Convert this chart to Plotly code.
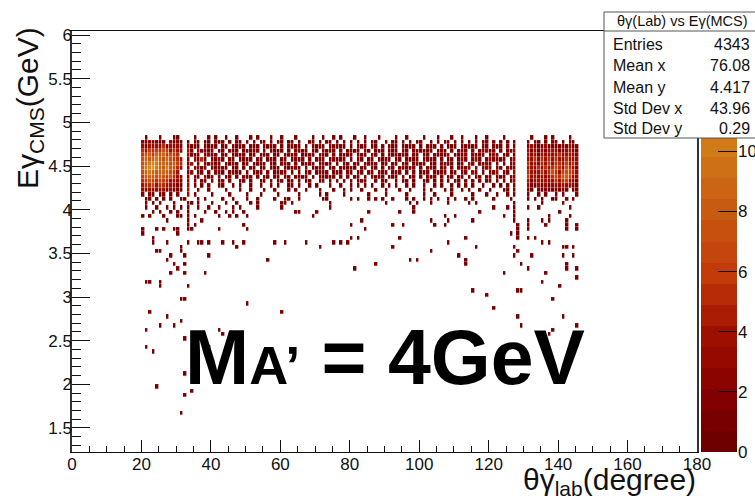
import numpy as np
import plotly.graph_objects as go

# ---------------- data ----------------
# lower edges (GeV) of the energy rows of the dense band, top to bottom
BAND_E_LOW = [4.80, 4.75, 4.70, 4.65, 4.60, 4.55, 4.50, 4.45, 4.40, 4.35, 4.30, 4.25, 4.20, 4.15]

# counts per 1-degree column ('.'=0, hex digits), block starting at theta=20
LEFT_FIRST = 20
LEFT_ROWS = [
    ".1...1...11.",
    "2132212.3121",
    "324343524332",
    "546565764543",
    "67869796765.",
    "7989a8797654",
    "79aba8987865",
    "8abca98a8754",
    "79a98898764.",
    "689878767543",
    "567656654432",
    "455645544321",
    "334333423211",
    "2.21.12.1.1.",
]

# block starting at theta=33 (95 columns, written in groups of ten)
MID_FIRST = 33
MID_ROWS = [
    "..1...1.1. .1..1...1. 1...1..1.. .1....1..1 ..1.1...1. .1...1.... 1..1....1. ..1...1..1 ...1..1... .1...",
    "1.21.11.21 1.1.21.1.1 .21.1.12.1 1.1..21.1. 21.1.1.1.2 .1.21..1.1 1.2.1.12.. 1.1.21.1.2 .1.2.11.2. 1.1.2",
    "2121.2112. 12.1121.21 1.2112.1.2 211.1.2121 .12121.1.2 12.11.2.11 2.1121.2.1 12.2.112.1 2121.12.12 1.2.2",
    "42.32121.2 1.212.1121 2.1.2112.1 .2121.11.2 121.2.1211 .21.121.21 1.21.21211 2.121.2.22 1.2.22312. 2.123",
    "3121.2312. 21.1212.12 .121.21.12 12.1221.21 1.2.1212.1 21.12.1.21 2121.12.12 .21213.121 3.2212.231 .21.2",
    "2.3151.213 1.21.2121. 21.121.12. 1212.1.212 .12112.1.2 1.21.2121. 12.1212.21 21.2.12.13 2.231.2322 21.13",
    "14.2.21312 .2121.12.1 121.21.121 .2.1212.12 12.1.21.21 .1212.12.1 2.12.1212. 12.2122.12 .32.2131.2 .1.23",
    "2.2312.121 21.12.1.21 .12.121.21 121.2.1212 .21.12121. 21.21.2.12 .12121.1.2 21.12.2.21 23.1.232.2 2.212",
    "13.21.2.12 1.2121.2.1 21.2.1212. 1.2.12.121 2.121.21.2 1.21.212.1 21.1.2.121 .2212.12.2 2.32.1.223 .12.3",
    "2.12.312.1 .21.1.212. 1.21.21.12 .1212.1.21 121.2.1.12 .1.2121.21 1.2.12.1.2 12.1.21.21 .2.21.22.1 21.22",
    "3.2.11.2.1 2.1..21.1. .12.1.12.1 2.1.21..12 .1.2.1.2.1 12..1.21.. 1.21.1..21 .1.2.1.21. 2.1.2.12.1 .1.23",
    "3.1.1.2..1 1..1.1..1. .1..1.1..1 1.1..1.1.. .1..1..1.1 .1.1..1.1. 1..1.1..1. .1.1..1.1. 1.1..1..1. 1.1.2",
    "4..1..1... .1...1..1. ..1..1...1 .1..1...1. ..1..1.1.. 1...1..1.. .1..1...1. 1...1.1..1 .1..1..1.. .11.2",
    "3.1....1.. ..1....1.. .1....1... ..1.....1. 1....1.... ..1....1.. ...1....1. .1....1... ..1...1..1 ..1.2",
]

# block starting at theta=131
RIGHT_FIRST = 131
RIGHT_ROWS = [
    ".1...1.1....1..",
    "1.21.1.12.1.21.",
    "232123121212312",
    "323132343223421",
    "434243434534432",
    "345354545435443",
    "534354645546453",
    "443545456547542",
    "543454575467653",
    "634343456578643",
    "423434345456432",
    "322323233343321",
    "21.212121221.21",
    "1..1.1..1.1...1",
]

# single entries below the band: theta (deg), E (GeV)
TAIL_THETA = [
    21, 22.5, 24.8, 26.2, 28.5, 31.4, 32.8, 36.9, 38.3, 43.5, 46.4, 50.7, 53.6, 58.5, 61.3,
    62.8, 65.7, 72.3, 73.4, 80.6, 82.1, 85, 87.3, 89.6, 92.2, 96.5, 98.2, 101.1, 103.1,
    105.1, 108.6, 110.9, 113.2, 115.8, 121.8, 126.2, 131.6, 133.1, 135.4, 138.2, 139.7, 142, 144,
    21.9, 23.9, 25.6, 29.7, 33.4, 34.8, 36.3, 40.6, 44.4, 47.8, 51.6, 53, 60.2,
    61.9, 63.4, 74.3, 90.2, 97.9, 99.7, 103.1, 108, 114.6, 116.1, 127.3, 135.4, 141.1,
    21.3, 24.2, 27.6, 29.1, 31.1, 33.4, 36.3, 39.2, 42, 46.9, 48.4, 53, 60.8,
    74.9, 98.8, 121.8, 125.9, 127.6, 131.9, 134.5, 143.1,
    23.3, 25.6, 28.2, 30.5, 33.1, 38.3, 41.2, 44.4, 46.4, 49.8,
    64.8, 65.7, 70.9, 85.5, 94.5, 98.8, 117.5, 127.6, 140.6,
    20.5, 22.8, 26.8, 30, 31.4, 33.1, 35.4, 42, 45.5, 47.8, 50.7,
    69.4, 107.4, 110.9, 124.4, 127.6, 137.4, 143.4,
    27.6, 33.1, 37.2,
    83.5, 103.7, 108, 115.5, 127.6, 131.9, 135.7, 137.1, 142.6,
    33.1, 35.7, 49.8, 80.6, 92.5, 95.9, 104, 107.7, 128.2, 131.3, 136.2, 142.6, 145.2,
    20.7, 24.5, 26.2, 29.4, 30.6, 33.1, 34.9, 42, 50.4, 84.7, 128.2, 131, 142.6, 145.2,
    20.7, 30.6, 126.2, 128.2,
    23.4, 80, 82.1, 94.2, 113.2, 128.2, 131, 133.1,
    23.4, 27.4, 33.1, 36.9, 37.7, 39.2, 43.8, 46.4, 49.8, 58.8, 61, 67.6, 75.2, 77.2, 79.5,
    108.6, 135.4, 137.1,
    31.7, 47.2, 71.1, 92.2, 116.9, 127.6, 141.1, 142.6, 144.6,
    24.5, 25.9, 31.7, 103.7, 128.2,
    28.2, 32.8, 39.7, 111.5, 127, 132.5, 141.4, 144,
    27.6, 56.2, 97.6, 99.1, 113.2,
    29.1, 32.8, 87.8, 113.5, 129, 142,
    30.2, 30.8, 81.8, 131.6, 142.9, 145.2,
    28.2, 32.8, 38.3, 124.4, 136.5,
    145.2,
    21.3, 22.8, 25.3, 135.1,
    25.3, 33.4, 140,
    115.2, 128.2, 129,
    119,
    31.7, 32.8, 138,
    50.7,
    121.5,
    22.2, 60.8,
    27.6, 128.2, 141.4,
    31.7,
    25.3, 29.1, 129, 145.2,
    21.9, 42, 138.5,
    43.8, 137,
    32.8,
    21.9, 39.5,
    23.3,
    32.8,
    24.2,
    34.8,
    32.8,
    31.7,
]
TAIL_E = (
    [4.12] * 15 + [4.13] * 14 + [4.13] * 14
    + [4.07] * 13 + [4.08] * 7 + [4.08] * 6
    + [4.02] * 13 + [4.03] * 2 + [4.03] * 6
    + [3.97] * 10 + [3.98] * 6 + [3.98] * 3
    + [3.92] * 11 + [3.93] * 1 + [3.93] * 6
    + [3.87] * 3
    + [3.86] * 9
    + [3.82] * 3 + [3.82] * 10
    + [3.78] * 9 + [3.78] * 5
    + [3.73] * 2 + [3.73] * 2
    + [3.68] * 1 + [3.68] * 7
    + [3.63] * 15 + [3.63] * 3
    + [3.58] * 3 + [3.58] * 6
    + [3.53] * 3 + [3.53] * 2
    + [3.48] * 3 + [3.48] * 5
    + [3.43] * 2 + [3.43] * 3
    + [3.38] * 2 + [3.38] * 4
    + [3.33] * 2 + [3.33] * 4
    + [3.28] * 3 + [3.28] * 2
    + [3.23]
    + [3.18] * 3 + [3.18]
    + [3.13] + [3.12] * 2
    + [3.08] * 3
    + [3.03]
    + [2.98] * 3
    + [2.93]
    + [2.88]
    + [2.83] * 2
    + [2.78] * 3
    + [2.73]
    + [2.68] * 4
    + [2.63] * 3
    + [2.58] * 2
    + [2.53]
    + [2.44] * 2
    + [2.38]
    + [2.14]
    + [1.98]
    + [1.93]
    + [1.89]
    + [1.68]
)

STATS_TITLE = "θγ(Lab) vs Eγ(MCS)"
STATS_LABELS = ["Entries", "Mean x", "Mean y", "Std Dev x", "Std Dev y"]
STATS_VALUES = ["4343", "76.08", "4.417", "43.96", "0.29"]

X_TICKS = [0, 20, 40, 60, 80, 100, 120, 140, 160, 180]
Y_TICKS = [1.5, 2, 2.5, 3, 3.5, 4, 4.5, 5, 5.5, 6]
Y_TICK_TEXT = ["1.5", "2", "2.5", "3", "3.5", "4", "4.5", "5", "5.5", "6"]
Z_TICKS = [0, 2, 4, 6, 8, 10]

# ---------------- histogram grid ----------------
X_BIN = 1.0
Y_BIN = 0.05
Y_START = 1.20
NX = 180
NY = 96
counts = np.zeros((NY, NX))


def row_index(e_low):
    return int(round((e_low - Y_START) / Y_BIN))


def fill_block(rows, first):
    for e_low, s in zip(BAND_E_LOW, rows):
        s = s.replace(" ", "")
        j = row_index(e_low)
        for k, ch in enumerate(s):
            if ch != "." and first + k < NX:
                counts[j, first + k] += int(ch, 16)


fill_block(LEFT_ROWS, LEFT_FIRST)
fill_block(MID_ROWS, MID_FIRST)
fill_block(RIGHT_ROWS, RIGHT_FIRST)
for th, e in zip(TAIL_THETA, TAIL_E):
    i = int(np.floor(th / X_BIN))
    j = int(np.floor((e - Y_START) / Y_BIN + 1e-9))
    if 0 <= i < NX and 0 <= j < NY:
        counts[j, i] += 1

z = np.where(counts > 0, counts, np.nan)
x_centers = (np.arange(NX) + 0.5) * X_BIN
y_centers = Y_START + (np.arange(NY) + 0.5) * Y_BIN

# ---------------- palette (20 contour levels, 0..14) ----------------
ZMAX = 14.0
NLEV = 20
LEVEL_COLORS = [
    (111, 0, 0), (120, 0, 0), (130, 0, 0), (139, 4, 0), (149, 9, 0),
    (158, 15, 0), (170, 28, 3), (183, 44, 6), (195, 59, 10), (197, 70, 13),
    (199, 80, 15), (200, 91, 18), (203, 101, 20), (206, 112, 22), (209, 122, 24),
    (211, 133, 27), (214, 143, 29), (218, 154, 32), (222, 166, 39), (226, 178, 45),
]
colorscale = []
for k, c in enumerate(LEVEL_COLORS):
    col = "rgb(%d,%d,%d)" % c
    colorscale.append([k / NLEV, col])
    colorscale.append([(k + 1) / NLEV, col])

# ---------------- figure ----------------
W, H = 755, 503
ML, MR, MT, MB = 72, 18, 31, 51
PW = W - ML - MR
PH = H - MT - MB


def PX(x):
    return (x - ML) / PW


def PY(y):
    return (H - MB - y) / PH


FONT = "Liberation Sans, Arial, Helvetica, sans-serif"

fig = go.Figure()
fig.add_trace(go.Heatmap(
    x=x_centers, y=y_centers, z=z, zmin=0, zmax=ZMAX,
    colorscale=colorscale, showscale=False, xgap=0.6, ygap=0.3,
    hoverinfo="skip", xaxis="x", yaxis="y",
))

lev_centers = [(k + 0.5) * ZMAX / NLEV for k in range(NLEV)]
fig.add_trace(go.Heatmap(
    x=[0.5], y=lev_centers, z=[[v] for v in lev_centers], zmin=0, zmax=ZMAX,
    colorscale=colorscale, showscale=False, hoverinfo="skip",
    xaxis="x2", yaxis="y2",
))

main_right = PX(697)
fig.update_layout(
    width=W, height=H,
    margin=dict(l=ML, r=MR, t=MT, b=MB, pad=0, autoexpand=False),
    paper_bgcolor="white", plot_bgcolor="white",
    font=dict(family=FONT, color="#111", size=17),
    xaxis=dict(
        domain=[0, main_right], range=[0, 180], tickvals=X_TICKS,
        ticks="inside", ticklen=12, tickwidth=1, tickcolor="#111",
        minor=dict(dtick=5, ticks="inside", ticklen=6, tickcolor="#111", tickwidth=1),
        showgrid=False, zeroline=False, showline=True, linecolor="#111",
        linewidth=1, mirror=True, tickfont=dict(size=17), anchor="y",
        automargin=False, ticklabelstandoff=-3,
    ),
    yaxis=dict(
        domain=[0, 1], range=[1.225, 6.046], tickvals=Y_TICKS, ticktext=Y_TICK_TEXT,
        ticks="inside", ticklen=18, tickwidth=1, tickcolor="#111",
        minor=dict(dtick=0.1, ticks="inside", ticklen=9, tickcolor="#111", tickwidth=1),
        showgrid=False, zeroline=False, showline=True, linecolor="#333",
        linewidth=1.5, mirror=True, tickfont=dict(size=17), anchor="x",
        automargin=False, ticklabelstandoff=-5,
    ),
    xaxis2=dict(domain=[PX(701), 1], range=[0, 1], visible=False, anchor="y2",
                automargin=False),
    yaxis2=dict(
        domain=[0, 1], range=[0, ZMAX], tickvals=Z_TICKS, side="right",
        ticks="inside", ticklen=19, tickcolor="#111", tickwidth=1,
        showgrid=False, zeroline=False, showline=False, anchor="x2",
        tickfont=dict(size=17), automargin=False,
    ),
)

shapes = [
    dict(type="rect", xref="paper", yref="paper", x0=PX(604), x1=PX(757),
         y0=PY(138), y1=PY(12), fillcolor="white", line=dict(color="#555", width=1),
         layer="above"),
    dict(type="line", xref="paper", yref="paper", x0=PX(604), x1=PX(757),
         y0=PY(31), y1=PY(31), line=dict(color="#555", width=1), layer="above"),
]
fig.update_layout(shapes=shapes)

ann = []
ann.append(dict(text=STATS_TITLE, x=PX(682), y=PY(21), xref="paper", yref="paper",
                xanchor="center", yanchor="middle", showarrow=False,
                font=dict(size=14.5, family=FONT, color="#111")))
row_y = [44, 65.5, 87, 108, 128]
for lab, val, yy in zip(STATS_LABELS, STATS_VALUES, row_y):
    ann.append(dict(text=lab, x=PX(611), y=PY(yy), xref="paper", yref="paper",
                    xanchor="left", yanchor="middle", showarrow=False,
                    font=dict(size=16, family=FONT, color="#111")))
    ann.append(dict(text=val, x=PX(752), y=PY(yy), xref="paper", yref="paper",
                    xanchor="right", yanchor="middle", showarrow=False,
                    font=dict(size=16, family=FONT, color="#111")))

ann.append(dict(text="Eγ<sub>CMS</sub>(GeV)", textangle=-90, x=PX(29), y=PY(108),
                xref="paper", yref="paper", xanchor="center", yanchor="middle",
                showarrow=False, font=dict(size=30, family=FONT, color="#111")))
ann.append(dict(text="θγ<sub>lab</sub>(degree)", x=PX(698), y=PY(461),
                xref="paper", yref="paper", xanchor="right", yanchor="top",
                showarrow=False, font=dict(size=30, family=FONT, color="#111")))
ann.append(dict(text="<b>M<span style='font-size:54px'>A’</span> = 4GeV</b>",
                x=PX(385), y=PY(357),
                xref="paper", yref="paper", xanchor="center", yanchor="middle",
                showarrow=False, font=dict(size=77, family=FONT, color="black")))
fig.update_layout(annotations=ann)

fig.write_html("out.html")
